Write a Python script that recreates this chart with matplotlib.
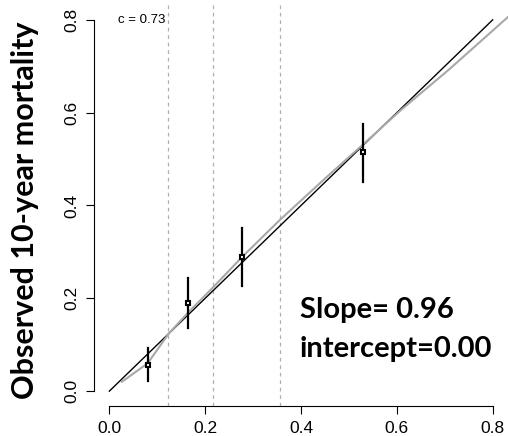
import matplotlib
matplotlib.use('Agg')
import matplotlib.pyplot as plt

# calibration groups: predicted vs observed with 95% CI
pred = [0.081, 0.164, 0.276, 0.530]
obs = [0.056, 0.191, 0.290, 0.516]
ci_low = [0.022, 0.137, 0.227, 0.450]
ci_high = [0.092, 0.244, 0.351, 0.575]

# smoothed calibration curve (grey)
smooth_x = [0.026, 0.08, 0.124, 0.165, 0.217, 0.276, 0.356, 0.45, 0.53, 0.61, 0.71, 0.835]
smooth_y = [0.020, 0.060, 0.124, 0.170, 0.224, 0.288, 0.369, 0.458, 0.532, 0.607, 0.694, 0.809]

# risk group cut points
cuts = [0.123, 0.217, 0.356]

ticks = [0.0, 0.2, 0.4, 0.6, 0.8]
tick_labels = ['0.0', '0.2', '0.4', '0.6', '0.8']

fig = plt.figure(figsize=(5.1, 4.36), dpi=100)
ax = fig.add_axes([94 / 510, 30 / 436, 414 / 510, 401 / 436])

for c in cuts:
    ax.axvline(c, color='#b0b0b0', lw=0.9, dashes=(3, 3))

ax.plot([0, 0.8], [0, 0.8], color='black', lw=1.0)
ax.plot(smooth_x, smooth_y, color='#a8a8a8', lw=1.5)

for x, lo, hi in zip(pred, ci_low, ci_high):
    ax.plot([x, x], [lo, hi], color='black', lw=1.6)
ax.plot(pred, obs, linestyle='none', marker='s', ms=3.3, mfc='white', mec='black', mew=1.5)

ax.set_xlim(-0.032, 0.832)
ax.set_ylim(-0.032, 0.832)

for s in ['top', 'right']:
    ax.spines[s].set_visible(False)
for s in ['left', 'bottom']:
    ax.spines[s].set_bounds(0, 0.8)
    ax.spines[s].set_linewidth(0.8)

ax.set_xticks(ticks)
ax.set_xticklabels(tick_labels, family='Liberation Sans', fontsize=12.5)
ax.set_yticks(ticks)
ax.set_yticklabels(tick_labels, family='Liberation Sans', fontsize=12.5, rotation=90, va='center')
ax.tick_params(direction='out', length=5.5, width=0.8, pad=5)

ax.text(0.067, 0.8, 'c = 0.73', family='Liberation Sans', fontsize=9.5, ha='center', va='center')
ax.text(0.398, 0.157, 'Slope= 0.96', family='Lato', fontweight='bold', fontsize=21, va='baseline')
ax.text(0.398, 0.073, 'intercept=0.00', family='Lato', fontweight='bold', fontsize=21, va='baseline')

fig.text(25 / 510, 0.518, 'Observed 10-year mortality', family='Lato', fontweight='bold',
         fontsize=22, rotation=90, ha='center', va='center')

plt.savefig('out.png', dpi=100)
